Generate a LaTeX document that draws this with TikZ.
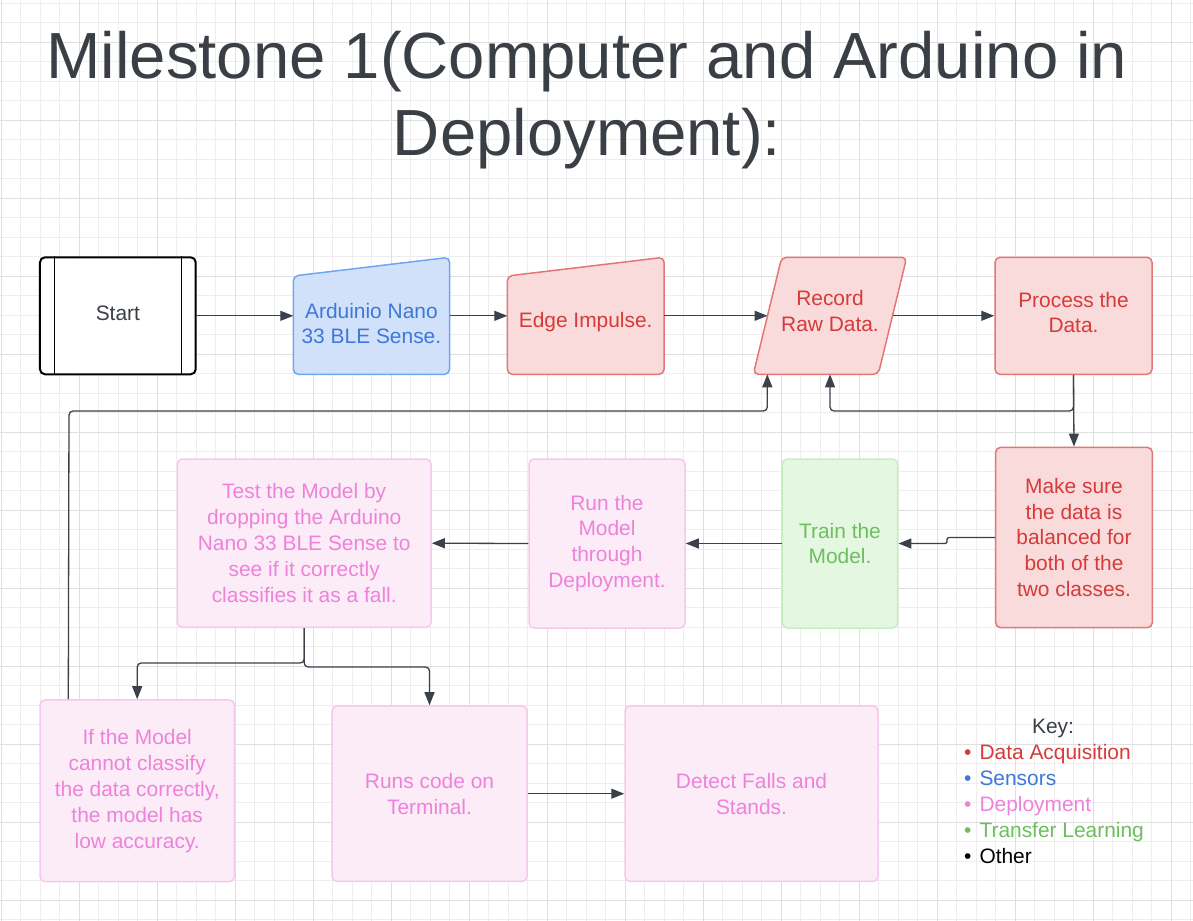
\documentclass[tikz,border=0pt]{standalone}
\usepackage{fontspec}
\setmainfont{Liberation Sans}
\usetikzlibrary{arrows.meta,calc}
\definecolor{gmin}{HTML}{EEEEEE}
\definecolor{gmaj}{HTML}{DFDFDF}
\definecolor{linec}{HTML}{3A414A}
\definecolor{titlec}{HTML}{3A3E45}
\definecolor{redfill}{HTML}{F8DBDA}
\definecolor{reddraw}{HTML}{E57676}
\definecolor{redtext}{HTML}{D63A3A}
\definecolor{bluefill}{HTML}{D2E1FA}
\definecolor{bluedraw}{HTML}{6EA6F0}
\definecolor{bluetext}{HTML}{3C78DC}
\definecolor{greenfill}{HTML}{E4F7E0}
\definecolor{greendraw}{HTML}{C3F0BE}
\definecolor{greentext}{HTML}{6EBE5F}
\definecolor{pinkfill}{HTML}{FCECF8}
\definecolor{pinkdraw}{HTML}{F6C8EE}
\definecolor{pinktext}{HTML}{EE82DA}
\newcommand{\bodyfont}{\fontsize{21}{26}\selectfont}
\tikzset{
  gridmin/.style={draw=gmin, line width=0.8bp},
  gridmaj/.style={draw=gmaj, line width=0.8bp},
  base box/.style={rectangle, rounded corners=5bp, line width=1.5bp, inner sep=0pt, align=center, font=\bodyfont},
  redbox/.style={base box, draw=reddraw, fill=redfill, text=redtext},
  greenbox/.style={base box, draw=greendraw, fill=greenfill, text=greentext},
  pinkbox/.style={base box, draw=pinkdraw, fill=pinkfill, text=pinktext},
  redshape/.style={draw=reddraw, fill=redfill, line width=1.5bp, rounded corners=5bp},
  blueshape/.style={draw=bluedraw, fill=bluefill, line width=1.5bp, rounded corners=5bp},
  label text/.style={inner sep=0pt, align=center, font=\bodyfont},
  conn/.style={draw=linec, line width=1.3bp, rounded corners=4bp, -{Triangle[length=13bp,width=10bp]}},
  keyitem/.style={anchor=base west, inner sep=0pt, font=\bodyfont},
}
\begin{document}
\begin{tikzpicture}[x=1bp, y=-1bp]
\useasboundingbox (0,0) rectangle (1193,921);
\fill[white] (0,0) rectangle (1193,921);
% grid
\foreach \i in {0,...,61} \draw[gridmin] ({1.3+19.5*\i},0) -- ++(0,921);
\foreach \j in {0,...,47} \draw[gridmin] (0,{3.3+19.5*\j}) -- ++(1193,0);
\foreach \i in {0,...,15} \draw[gridmaj] ({1.3+78*\i},0) -- ++(0,921);
\foreach \j in {0,...,11} \draw[gridmaj] (0,{42.3+78*\j}) -- ++(1193,0);

% title
\node[inner sep=0pt, align=center, text=titlec, font=\fontsize{65.5}{78}\selectfont] (title) at (587,100)
  {Milestone 1(Computer and Arduino in\\Deployment):};

% start
\node[rectangle, rounded corners=5bp, draw=black, fill=white, line width=2bp, minimum width=155.7bp, minimum height=117bp, inner sep=0pt] (start) at (117.85,315.8) {};
\node[label text, text=titlec] (startt) at (117.85,313) {Start};
\draw[line width=1.5bp] ([xshift=15.5bp]start.north west) -- ([xshift=15.5bp]start.south west);
\draw[line width=1.5bp] ([xshift=-15bp]start.north east) -- ([xshift=-15bp]start.south east);

% Arduino (manual input)
\draw[blueshape] (371,374.3) -- (293.3,374.3) -- (293.3,276) -- (449.5,257.3) -- (449.5,374.3) -- cycle;
\node[label text, text=bluetext] (ard) at (371.4,323.5) {Arduinio Nano\\33 BLE Sense.};
\coordinate (ardW) at (293.3,315.8);
\coordinate (ardE) at (449.5,315.8);

% Edge Impulse (manual input)
\draw[redshape] (585,374.3) -- (507.3,374.3) -- (507.3,276) -- (664,257.3) -- (664,374.3) -- cycle;
\node[label text, text=redtext] (edge) at (585.7,322) {Edge Impulse.};
\coordinate (edgeW) at (507.3,315.8);
\coordinate (edgeE) at (664,315.8);

% Record Raw Data (parallelogram)
\draw[redshape] (830,374.3) -- (753.3,374.3) -- (781.7,257.3) -- (906.7,257.3) -- (878.3,374.3) -- cycle;
\node[label text, text=redtext] (rec) at (830,311) {Record\\Raw Data.};
\coordinate (recW) at (767.5,315.8);
\coordinate (recE) at (892.5,315.8);
\coordinate (recB1) at (767.3,374.3);
\coordinate (recB2) at (830,374.3);

% rectangles
\node[redbox, minimum width=157bp, minimum height=117bp] (proc) at (1073.5,315.8) {};
\node[label text, text=redtext] (proct) at (1073.5,312.5) {Process the\\Data.};
\node[redbox, minimum width=156.6bp, minimum height=180.4bp] (make) at (1074,537.5) {Make sure\\the data is\\balanced for\\both of the\\two classes.};
\node[greenbox, minimum width=115.4bp, minimum height=169bp] (train) at (840,543.5) {Train the\\Model.};
\node[pinkbox, minimum width=156bp, minimum height=169bp] (run) at (607,543.5) {Run the\\Model\\through\\Deployment.};
\node[pinkbox, minimum width=253.7bp, minimum height=168.3bp] (test) at (304.2,543.2) {Test the Model by\\dropping the Arduino\\Nano 33 BLE Sense to\\see if it correctly\\classifies it as a fall.};
\node[pinkbox, minimum width=194.3bp, minimum height=181.7bp] (ifm) at (137.2,790.8) {If the Model\\cannot classify\\the data correctly,\\the model has\\low accuracy.};
\node[pinkbox, minimum width=195bp, minimum height=175.5bp] (runs) at (429.5,793.7) {Runs code on\\Terminal.};
\node[pinkbox, minimum width=253bp, minimum height=175.5bp] (detect) at (751.5,793.7) {Detect Falls and\\Stands.};

% connectors
\draw[conn] (start.east) -- (ardW);
\draw[conn] (ardE) -- (edgeW);
\draw[conn] (edgeE) -- (recW);
\draw[conn] (recE) -- (proc.west);
\draw[conn] (proc.south) -- (make.north);
\coordinate (j1) at (1073.5,411);
\draw[conn] (proc.south) -- (j1) -| (recB2);
\coordinate (jog) at (947,540.5);
\draw[conn, rounded corners=2bp] (make.west) -| (jog) |- (train.east);
\draw[conn] (train.west) -- (run.east);
\draw[conn] (run.west) -- (test.east);
\coordinate (s1) at (304.2,663);
\coordinate (s2) at (304.2,667);
\draw[conn] (test.south) -- (s1) -| (ifm.north);
\draw[conn] (test.south) -- (s2) -| (runs.north);
\draw[conn] (runs.east) -- (detect.west);
\coordinate (ifmT) at ($(ifm.north west)+(29,0)$);
\coordinate (j2) at (69,411);
\draw[conn] (ifmT) -- (j2) -| (recB1);

% key
\node[anchor=base, inner sep=0pt, font=\bodyfont, text=titlec] (key) at (1053,733) {Key:};
\node[keyitem, text=redtext] (k1) at (964,759.3) {•\hspace{8bp}Data Acquisition};
\node[keyitem, text=bluetext] (k2) at (964,785.3) {•\hspace{8bp}Sensors};
\node[keyitem, text=pinktext] (k3) at (964,811.3) {•\hspace{8bp}Deployment};
\node[keyitem, text=greentext] (k4) at (964,837.3) {•\hspace{8bp}Transfer Learning};
\node[keyitem, text=black] (k5) at (964,863.3) {•\hspace{8bp}Other};
\end{tikzpicture}
\end{document}
